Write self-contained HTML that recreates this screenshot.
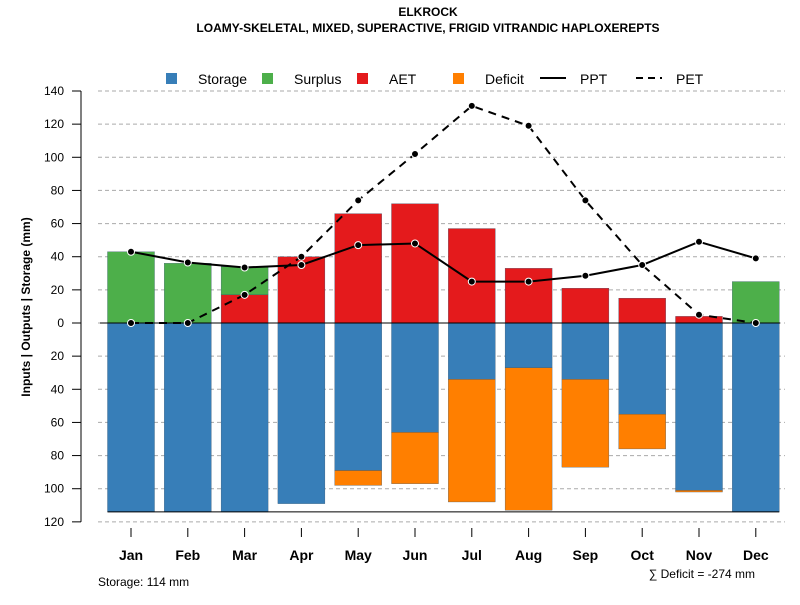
<!DOCTYPE html>
<html><head><meta charset="utf-8"><style>
body{margin:0;background:#fff}
svg text{font-family:"Liberation Sans",sans-serif}
</style></head><body>
<svg id="c" width="800" height="600" xmlns="http://www.w3.org/2000/svg">
<text x="428" y="16" text-anchor="middle" font-size="12" font-weight="bold">ELKROCK</text>
<text x="428" y="32" text-anchor="middle" font-size="12" font-weight="bold">LOAMY-SKELETAL, MIXED, SUPERACTIVE, FRIGID VITRANDIC HAPLOXEREPTS</text>
<g id="grid"></g><g id="bars"></g><g id="lines"></g><g id="axes"></g>
<g font-size="14">
<rect x="166" y="73" width="11" height="11" fill="#377eb8"/><text x="198" y="84">Storage</text>
<rect x="262" y="73" width="11" height="11" fill="#4daf4a"/><text x="294" y="84">Surplus</text>
<rect x="357" y="73" width="11" height="11" fill="#e41a1c"/><text x="389" y="84">AET</text>
<rect x="453" y="73" width="11" height="11" fill="#ff7f00"/><text x="485" y="84">Deficit</text>
<line x1="540" y1="78" x2="566" y2="78" stroke="#000" stroke-width="2"/><text x="580" y="84">PPT</text>
<line x1="636" y1="78" x2="662" y2="78" stroke="#000" stroke-width="2" stroke-dasharray="7,5"/><text x="676" y="84">PET</text>
</g>
<text x="30" y="307" transform="rotate(-90 30 307)" text-anchor="middle" font-size="12" font-weight="bold">Inputs | Outputs | Storage    (mm)</text>
<text x="98" y="586" font-size="12">Storage: 114 mm</text>
<text x="755" y="582" text-anchor="end" font-size="12" transform="translate(0,-4)">∑ Deficit = -274 mm</text>
</svg>
<script>
const months=["Jan","Feb","Mar","Apr","May","Jun","Jul","Aug","Sep","Oct","Nov","Dec"];
const storage=[114,114,114,109,89,66,34,27,34,55,101,114];
const deficit=[0,0,0,0,9,31,74,86,53,21,1,0];
const aet=[0,0,17,40,66,72,57,33,21,15,4,0];
const surplus=[43,36,17,0,0,0,0,0,0,0,0,25];
const ppt=[43,36.5,33.5,35,47,48,25,25,28.5,35,49,39];
const pet=[0,0,17,40,74,102,131,119,74,35,5,0];
const yTicks=[140,120,100,80,60,40,20,0,-20,-40,-60,-80,-100,-120];
const soilStorage=114;
const NS="http://www.w3.org/2000/svg";
const y=v=>323-v*(232/140);
const x=i=>131+i*56.8;
const bw=47;
function mk(g,t,a){const e=document.createElementNS(NS,t);for(const k in a)e.setAttribute(k,a[k]);document.getElementById(g).appendChild(e);return e;}
yTicks.forEach(v=>{
 const l=mk("grid","line",{x1:98,x2:785,y1:y(v),y2:y(v),stroke:"#aaa","stroke-dasharray":"4,3"});
 
 
 const t=mk("axes","line",{x1:72,x2:81,y1:y(v),y2:y(v),stroke:"#000"});
 
 
 const tx=mk("axes","text",{x:64,y:y(v)+4,"text-anchor":"end","font-size":12});
 tx.textContent=Math.abs(v);
 
 
});
const ax=mk("axes","line",{x1:81,x2:81,y1:y(140),y2:y(-120),stroke:"#000"});


function bar(i,v0,v1,c,n){
 if(v1===v0)return;
 const r=mk("bars","rect",{x:x(i)-bw/2,width:bw,y:Math.min(y(v0),y(v1)),height:Math.abs(y(v0)-y(v1)),fill:c,stroke:"#2a4a66","stroke-width":0.3});
 
 
}
months.forEach((m,i)=>{
 bar(i,0,-storage[i],"#377eb8","storage");
 bar(i,-storage[i],-storage[i]-deficit[i],"#ff7f00","deficit");
 bar(i,0,aet[i],"#e41a1c","aet");
 bar(i,aet[i],aet[i]+surplus[i],"#4daf4a","surplus");
 const t=mk("axes","line",{x1:x(i),x2:x(i),y1:528,y2:537,stroke:"#000"});
 
 
 const tx=mk("axes","text",{x:x(i),y:560,"text-anchor":"middle","font-size":14,"font-weight":"bold"});
 tx.textContent=m;
 
 
});
const z=mk("bars","line",{x1:100,x2:780,y1:y(0),y2:y(0),stroke:"#000"});


const sb=mk("bars","line",{x1:x(0)-bw/2,x2:x(11)+bw/2,y1:y(-soilStorage),y2:y(-soilStorage),stroke:"#000"});


function series(d,n,dash){
 const p=mk("lines","polyline",{points:d.map((v,i)=>x(i)+","+y(v)).join(" "),fill:"none",stroke:"#000","stroke-width":2,"stroke-dasharray":dash});
 
 
 d.forEach((v,i)=>{
  const c=mk("lines","circle",{cx:x(i),cy:y(v),r:3.5,fill:"#000",stroke:"#fff","stroke-width":1});
  
  
 });
}
series(pet,"pet","8,6");
series(ppt,"ppt","none");
</script>
</body></html>
